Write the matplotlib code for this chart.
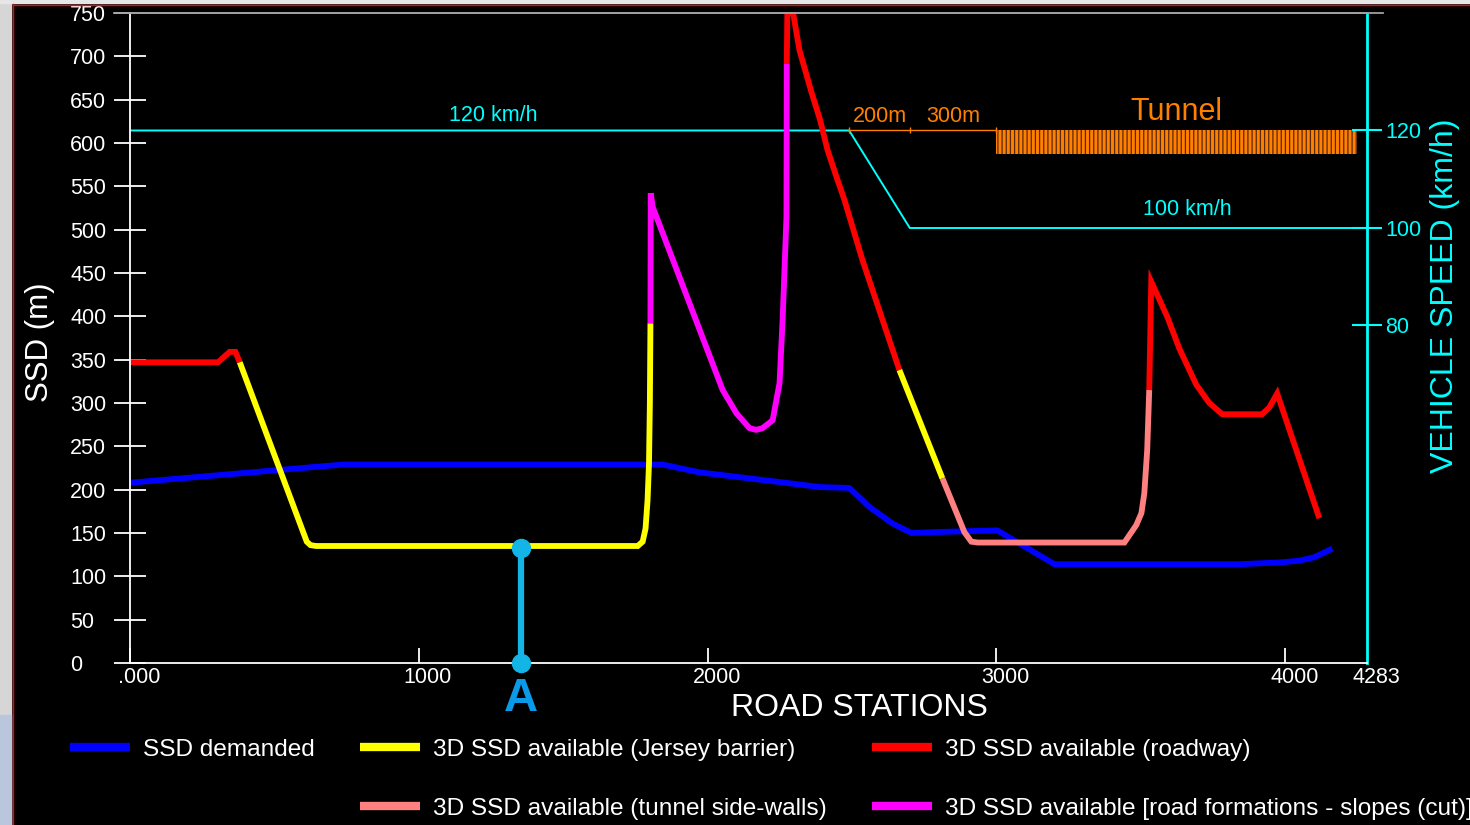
import matplotlib
matplotlib.use("Agg")
import matplotlib.pyplot as plt
import matplotlib.transforms as mtransforms
from matplotlib.lines import Line2D
from matplotlib.patches import Rectangle

# ---------------- data ----------------
# SSD demanded along the alignment
demand_st = [0, 737, 1844, 1972, 2145, 2318, 2388, 2491, 2560, 2640, 2706,
             2780, 3003, 3201, 3841, 3979, 4048, 4100, 4163]
demand_ssd = [208, 229, 229, 220, 213, 206, 203, 202, 180, 161, 150,
              151, 153, 114, 114, 116, 118, 122, 132]

# 3D SSD available, split by the obstacle that limits sight
road1_st = [0, 305, 345, 365, 380]
road1_ssd = [347, 347, 359, 359, 347]

jersey1_st = [380, 612, 625, 644, 1758, 1775, 1785, 1792, 1797, 1800, 1802]
jersey1_ssd = [347, 140, 136, 135, 135, 140, 155, 188, 230, 300, 392]

slope_st = [1802, 1803, 1810, 2052, 2100, 2145, 2168, 2190, 2225, 2249,
            2260, 2273, 2274]
slope_ssd = [392, 542, 526, 315, 288, 271, 269, 271, 280, 323,
             399, 515, 692]

road2_st = [2274, 2276, 2296, 2318, 2360, 2389, 2415, 2446, 2474, 2536, 2664]
road2_ssd = [692, 750, 750, 707, 658, 627, 592, 561, 534, 465, 338]

jersey2_st = [2664, 2813]
jersey2_ssd = [338, 213]

wall_st = [2813, 2889, 2913, 2935, 3443, 3484, 3502, 3512, 3522, 3529]
wall_ssd = [213, 151, 140, 139, 139, 159, 173, 196, 246, 315]

road3_st = [3529, 3536, 3592, 3633, 3692, 3737, 3782, 3920, 3945, 3972, 4118]
road3_ssd = [315, 440, 399, 363, 321, 300, 287, 287, 295, 311, 167]

# design speed profile
speed_st = [0, 2490, 2700, 4283]
speed_kmh = [120, 120, 100, 100]

# tunnel and transition dimensions
dim_st = [2490, 2700, 3000]
dim_labels = ["200m", "300m"]
tunnel_start, tunnel_end = 3000, 4250

# check point A
point_a_st = 1355
point_a_ssd = 133

x_ticks = [0, 1000, 2000, 3000, 4000, 4283]
x_tick_labels = [".000", "1000", "2000", "3000", "4000", "4283"]
ssd_ticks = list(range(0, 751, 50))
speed_ticks = [80, 100, 120]

# ---------------- style ----------------
plt.rcParams["font.family"] = ["Liberation Sans", "DejaVu Sans"]
plt.rcParams["hatch.linewidth"] = 0.9

BLUE = "#0000ff"
YELLOW = "#ffff00"
RED = "#ff0000"
SALMON = "#ff8080"
MAGENTA = "#ff00ff"
CYAN = "#00ffff"
ORANGE = "#ff8000"
MARK = "#12b5e5"

W, H = 1470, 825
fig = plt.figure(figsize=(W / 100, H / 100), dpi=100, facecolor="black")

# window frame around the drawing
fig.add_artist(Rectangle((0, 0), 11 / W, 1, transform=fig.transFigure,
                         color="#d6d6d6", zorder=0))
fig.add_artist(Rectangle((0, 0), 11 / W, 110 / H, transform=fig.transFigure,
                         color="#b9c6dc", zorder=0))
fig.add_artist(Rectangle((0, 1 - 3 / H), 1, 3 / H, transform=fig.transFigure,
                         color="#e6e6e6", zorder=0))
fig.add_artist(Line2D([12.5 / W, 12.5 / W], [0, 1 - 4 / H],
                      transform=fig.transFigure, color=RED, lw=1.0))
fig.add_artist(Line2D([12.5 / W, 1], [1 - 4.5 / H, 1 - 4.5 / H],
                      transform=fig.transFigure, color=RED, lw=1.0))

ax = fig.add_axes([130 / W, 1 - 663 / H, (1367 - 130) / W, (663 - 13) / H])
ax.set_facecolor("black")
ax.set_xlim(0, 4283)
ax.set_ylim(0, 750)

ax2 = ax.twinx()
ax2.set_ylim(10.77, 144.1)
ax.set_zorder(ax2.get_zorder() + 1)
ax.patch.set_visible(False)

# ---------------- SSD curves ----------------
lw = 4.2
segments = [
    (demand_st, demand_ssd, BLUE),
    (road1_st, road1_ssd, RED),
    (jersey1_st, jersey1_ssd, YELLOW),
    (slope_st, slope_ssd, MAGENTA),
    (road2_st, road2_ssd, RED),
    (jersey2_st, jersey2_ssd, YELLOW),
    (wall_st, wall_ssd, SALMON),
    (road3_st, road3_ssd, RED),
]
for st, val, col in segments:
    ax.plot(st, val, color=col, lw=lw, solid_joinstyle="miter",
            solid_capstyle="butt")

# point A
ax.plot([point_a_st, point_a_st], [0, point_a_ssd], color=MARK, lw=4.5,
        marker="o", ms=13, clip_on=False, zorder=5)
ax.text(point_a_st, -42, "A", color="#0b9ae8", fontsize=34,
        fontweight="bold", ha="center", va="center")

# ---------------- speed profile & tunnel ----------------
ax2.plot(speed_st, speed_kmh, color=CYAN, lw=1.4)
ax2.text(1256, 123.0, "120 km/h", color=CYAN, fontsize=15.5,
         ha="center", va="center")
ax2.text(3661, 103.7, "100 km/h", color=CYAN, fontsize=15.5,
         ha="center", va="center")

ax2.plot(dim_st, [120] * len(dim_st), color=ORANGE, lw=1.0,
         marker="|", ms=5, mew=1.0)
for i, lab in enumerate(dim_labels):
    mid = (dim_st[i] + dim_st[i + 1]) / 2
    ax2.text(mid, 122.8, lab, color=ORANGE, fontsize=15.5,
             ha="center", va="center")

ax2.fill_between([tunnel_start, tunnel_end], 115.2, 120,
                 facecolor=ORANGE, edgecolor="#5a2800", hatch="||||", lw=0)
ax2.text(3623, 123.8, "Tunnel", color=ORANGE, fontsize=22,
         ha="center", va="center")

# ---------------- axes styling ----------------
for s in ("left", "bottom"):
    ax.spines[s].set_color("white")
    ax.spines[s].set_linewidth(1.3)
ax.spines["top"].set_color("#a0a0a0")
ax.spines["top"].set_linewidth(1.3)
ax.spines["right"].set_visible(False)
for s in ("left", "top", "bottom"):
    ax2.spines[s].set_visible(False)
ax2.spines["right"].set_color(CYAN)
ax2.spines["right"].set_linewidth(2.0)

ax.set_yticks(ssd_ticks)
ax.tick_params(axis="y", direction="inout", length=23, width=1.3,
               colors="white", labelsize=15.5, pad=31.5)
for lbl in ax.get_yticklabels():
    lbl.set_horizontalalignment("left")

ax.set_xticks(x_ticks, x_tick_labels)
ax.tick_params(axis="x", direction="in", length=11, width=1.3,
               colors="white", labelsize=15.5, pad=3)
shift = mtransforms.ScaledTranslation(9 / 100, 0, fig.dpi_scale_trans)
for lbl in ax.get_xticklabels():
    lbl.set_transform(lbl.get_transform() + shift)
ax.xaxis.get_major_ticks()[-1].tick1line.set_visible(False)

ax2.set_yticks(speed_ticks)
ax2.tick_params(axis="y", direction="inout", length=22, width=1.5,
                colors=CYAN, labelsize=15.5, pad=2)

ax.set_ylabel("SSD (m)", color="white", fontsize=22.5, va="center")
ax.yaxis.set_label_coords(-0.0728, 0.494)
ax2.set_ylabel("VEHICLE SPEED (km/h)", color=CYAN, fontsize=23,
               va="center", rotation=90)
ax2.yaxis.set_label_coords(1.063, 0.565)
ax.set_xlabel("ROAD STATIONS", color="white", fontsize=23, va="center")
ax.xaxis.set_label_coords(0.590, -0.069)

# extension of the top frame line beyond the axes
ax.plot([-16 / 1237, 1 + 16 / 1237], [1, 1], transform=ax.transAxes,
        color="#a0a0a0", lw=1.3, clip_on=False)

# ---------------- legend ----------------
def key(color):
    return Line2D([], [], color=color, lw=6, solid_capstyle="butt")

handles = [key(BLUE), key("none"), key(YELLOW), key(SALMON),
           key(RED), key(MAGENTA)]
labels = [
    "SSD demanded",
    "",
    "3D SSD available (Jersey barrier)",
    "3D SSD available (tunnel side-walls)",
    "3D SSD available (roadway)",
    "3D SSD available [road formations - slopes (cut)]",
]
fig.legend(handles, labels, ncol=3, loc="upper left",
           bbox_to_anchor=(70 / W, 1 - 738.5 / H), frameon=False,
           fontsize=17.6, labelcolor="white", handlelength=2.46,
           handletextpad=0.53, columnspacing=1.84, labelspacing=1.52,
           borderpad=0, borderaxespad=0)

fig.savefig("out.png", dpi=100, facecolor="black")
